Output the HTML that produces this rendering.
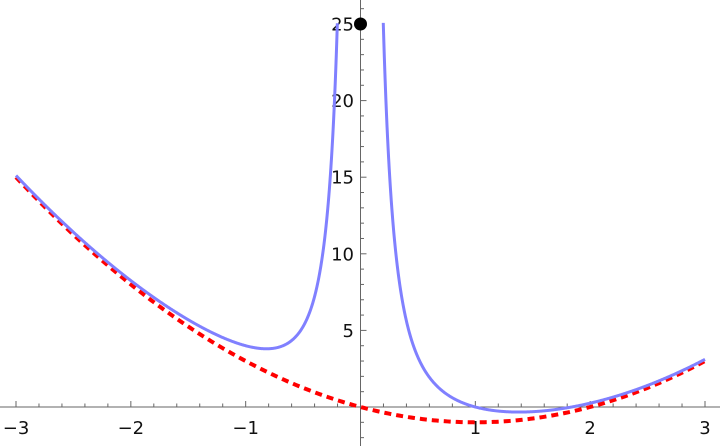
<!DOCTYPE html>
<html><head><meta charset="utf-8"><style>
html,body{margin:0;padding:0;background:#fff;}
svg{display:block;font-family:"DejaVu Sans","Liberation Sans",sans-serif;}
</style></head><body>
<svg id="s" width="720" height="446" viewBox="0 0 720 446" xmlns="http://www.w3.org/2000/svg">
<g id="axes" stroke="#666" stroke-width="1"></g>
<g id="labels" font-size="18" fill="#111"></g>
<path id="red" fill="none" stroke="#f00" stroke-width="4" stroke-dasharray="7,5"/>
<path id="b1" fill="none" stroke="#8080ff" stroke-width="3"/>
<path id="b2" fill="none" stroke="#8080ff" stroke-width="3"/>
<circle cx="360.5" cy="24" r="6.5" fill="#000"/>
</svg>
<script>
var X=function(x){return 360.5+x*114.83;},Y=function(y){return 407-y*15.32;};
var ax=document.getElementById('axes'),lb=document.getElementById('labels');
var h='<line x1="0" y1="407" x2="720" y2="407"/><line x1="360.5" y1="0" x2="360.5" y2="446"/>';
for(var i=-15;i<=15;i++){var x=X(i/5);var L=(i%5==0)?6:3.5;h+='<line x1="'+x+'" y1="'+(407-L)+'" x2="'+x+'" y2="407"/>';}
for(var j=-2;j<=26;j++){if(j==0)continue;var y=Y(j);var L=(j%5==0)?6:3.5;h+='<line x1="360.5" y1="'+y+'" x2="'+(360.5+L)+'" y2="'+y+'"/>';}
ax.innerHTML=h;
var t='';
[-3,-2,-1,1,2,3].forEach(function(v){t+='<text x="'+X(v)+'" y="434" text-anchor="middle">'+(v<0?'\u2212'+(-v):v)+'</text>';});
[5,10,15,20,25].forEach(function(v){t+='<text x="354" y="'+(Y(v)+6.5)+'" text-anchor="end">'+v+'</text>';});
lb.innerHTML=t;
function path(f,a,b,n){var d='';for(var k=0;k<=n;k++){var x=a+(b-a)*k/n;d+=(k?'L':'M')+X(x).toFixed(2)+','+Y(f(x)).toFixed(2);}return d;}
document.getElementById('red').setAttribute('d',path(function(x){return x*x-2*x;},-3,3,300));
var g=function(x){return x*x-2*x+1/(x*x);};
document.getElementById('b1').setAttribute('d',path(g,-3,-0.2016,600));
document.getElementById('b2').setAttribute('d',path(g,0.1983,3,600));
</script>
</body></html>
